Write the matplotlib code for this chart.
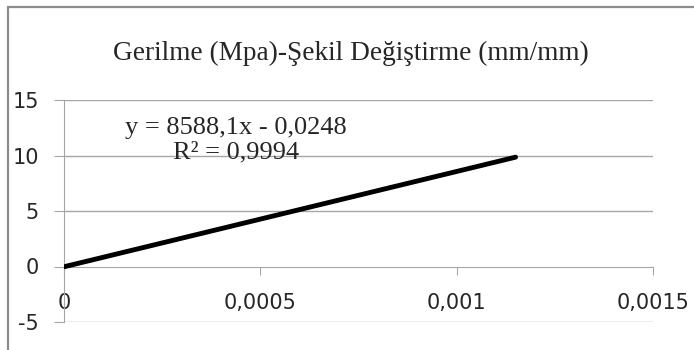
import matplotlib.pyplot as plt
from matplotlib.patches import Rectangle

# veri
strain = [0.0, 0.00115]
stress = [-0.0248, 9.85]
x_ticks = [0, 0.0005, 0.001, 0.0015]
x_labels = ["0", "0,0005", "0,001", "0,0015"]
y_ticks = [-5, 0, 5, 10, 15]
y_labels = ["-5", "0", "5", "10", "15"]
title = "Gerilme (Mpa)-Şekil Değiştirme (mm/mm)"
eq_text = "y = 8588,1x - 0,0248\nR² = 0,9994"

W, H = 694, 350
fig = plt.figure(figsize=(W / 100, H / 100), dpi=100)

# grafik alanı çerçevesi
fig.patches.append(Rectangle((8 / W, -0.1), 1.2, 1.1 - 7 / H,
                             transform=fig.transFigure, fill=False,
                             edgecolor="#8c8c8c", linewidth=1.6))

ax = fig.add_axes([64 / W, 1 - 322 / H, (653 - 64) / W, (322 - 100) / H])

grid_c = "#a6a6a6"
for y in y_ticks:
    if y != 0:
        ax.axhline(y, color=grid_c, linewidth=1.0, zorder=1)

ax.plot(strain, stress, color="black", linewidth=3.5, solid_capstyle="round", zorder=3)

ax.set_xlim(0, 0.0015)
ax.set_ylim(-5, 15)

for s in ["top", "right"]:
    ax.spines[s].set_visible(False)
ax.spines["left"].set_color(grid_c)
ax.spines["bottom"].set_color(grid_c)
ax.spines["bottom"].set_position(("data", 0))

ax.set_yticks(y_ticks)
ax.set_yticklabels(y_labels)
ax.set_xticks(x_ticks)
ax.set_xticklabels(x_labels)
ax.tick_params(axis="y", direction="out", length=7, color=grid_c,
               labelsize=15, pad=11, labelcolor="#262626")
ax.tick_params(axis="x", direction="out", length=6, color=grid_c,
               labelsize=15, pad=13, labelcolor="#262626")

ax.text(0.000438, 11.35, eq_text, fontsize=19, family="Liberation Serif",
        ha="center", va="center", linespacing=1.15, color="#262626")

fig.text(351 / W, 1 - 53 / H, title, fontsize=19.6, family="Liberation Serif",
         ha="center", va="center", color="#262626")

fig.savefig("out.png", dpi=100)
